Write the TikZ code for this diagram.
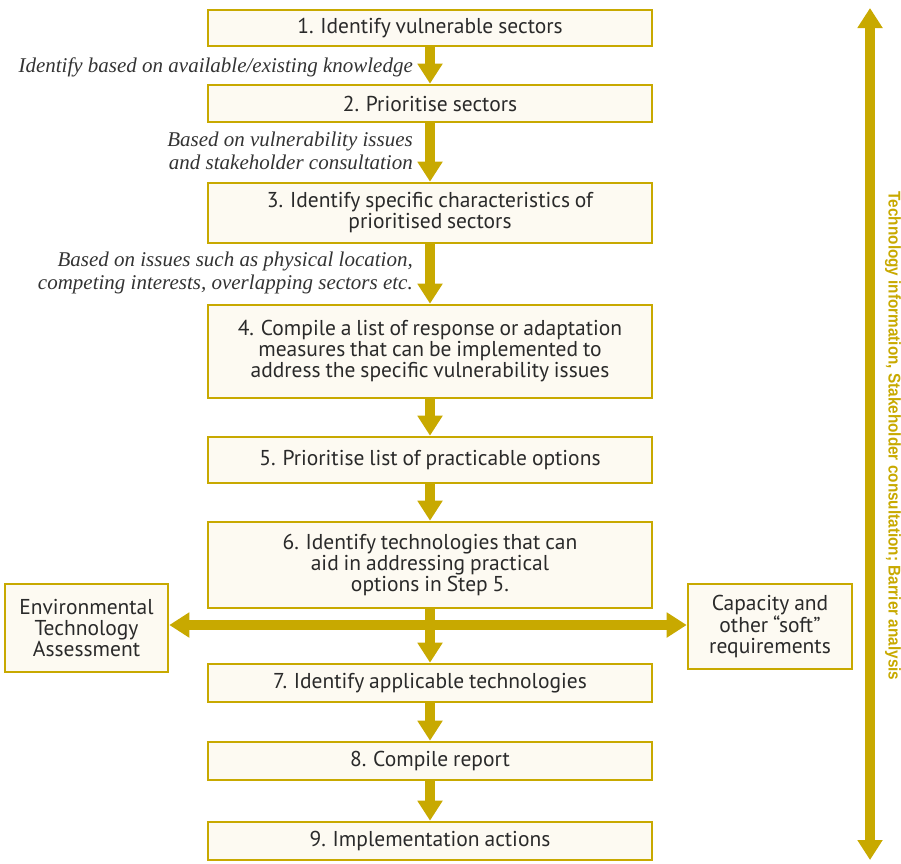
\documentclass[tikz,border=0pt]{standalone}
\usepackage{fontspec}
\setmainfont{PT Sans}[WordSpace=0.85]
\newfontfamily\notefont{Liberation Serif}
\newfontfamily\sidefont{Liberation Sans}
\usepackage{tikz}
\usetikzlibrary{arrows.meta, positioning, calc}
\definecolor{stepgold}{HTML}{C8A900}
\definecolor{stepfill}{HTML}{FDFAF2}
\definecolor{steptext}{HTML}{2A2A2A}
\definecolor{notetext}{HTML}{333333}

\begin{document}
\begin{tikzpicture}[
    x=1pt, y=-1pt,
    stepbox/.style={
        draw=stepgold, fill=stepfill, line width=2.6pt,
        minimum width=444pt, inner sep=2pt,
        font=\fontsize{21.5}{21}\selectfont, text=steptext, align=center
    },
    sidebox/.style={
        draw=stepgold, fill=stepfill, line width=2.6pt,
        inner sep=2pt,
        font=\fontsize{21.5}{21}\selectfont, text=steptext, align=center
    },
    note/.style={
        font=\notefont\itshape\fontsize{21}{22.5}\selectfont,
        text=notetext, align=right, anchor=east, inner sep=0pt
    },
    fatarrow/.style={
        draw=stepgold, line width=10pt,
        -{Triangle[width=24pt, length=20pt]}
    },
    fatboth/.style={
        draw=stepgold, line width=10pt,
        {Triangle[width=24pt, length=20pt]}-{Triangle[width=24pt, length=20pt]}
    }
]
\useasboundingbox (0,0) rectangle (901,863);

% Steps
\node[stepbox, minimum height=36pt] (s1) at (430,28) {1. Identify vulnerable sectors};
\node[stepbox, minimum height=37pt] (s2) at (430,103.5) {2. Prioritise sectors};
\node[stepbox, minimum height=60pt] (s3) at (430,213) {3. Identify specific characteristics of\\prioritised sectors};
\node[stepbox, minimum height=93pt] (s4) at (430,351.5) {4. Compile a list of response or adaptation\\measures that can be implemented to\\address the specific vulnerability issues};
\node[stepbox, minimum height=46pt] (s5) at (430,460) {5. Prioritise list of practicable options};
\node[stepbox, minimum height=86pt] (s6) at (430,565) {6. Identify technologies that can\\aid in addressing practical\\options in Step 5.};
\node[stepbox, minimum height=38pt] (s7) at (430,683) {7. Identify applicable technologies};
\node[stepbox, minimum height=38pt] (s8) at (430,761) {8. Compile report};
\node[stepbox, minimum height=38pt] (s9) at (430,841) {9. Implementation actions};

% Side boxes
\node[sidebox, minimum width=163pt, minimum height=88pt] (env) at (86.5,628) {Environmental\\Technology\\Assessment};
\node[sidebox, minimum width=164pt, minimum height=85pt] (cap) at (770,626.5) {Capacity and\\other “soft”\\requirements};

% Arrows down the steps
\draw[fatarrow] (s1) -- (s2);
\draw[fatarrow] (s2) -- (s3);
\draw[fatarrow] (s3) -- (s4);
\draw[fatarrow] (s4) -- (s5);
\draw[fatarrow] (s5) -- (s6);
\draw[fatarrow] (s6) -- (s7);
\draw[fatarrow] (s7) -- (s8);
\draw[fatarrow] (s8) -- (s9);

% Arrows out to the side boxes
\coordinate (hub) at (430,625);
\draw[fatboth] (hub -| env.east) -- (hub -| cap.west);

% Notes beside the arrows
\node[note] (n1) at (413,67) {Identify based on available/existing knowledge};
\node[note] (n2) at (413,151) {Based on vulnerability issues\\and stakeholder consultation};
\node[note] (n3) at (413,273) {Based on issues such as physical location,\\competing interests, overlapping sectors etc.};

% Side bar
\coordinate (bartop) at (870,8);
\coordinate (barbot) at (870,860);
\draw[fatboth] (bartop) -- (barbot);
\node[rotate=-90, text=stepgold, inner sep=0pt,
      font=\sidefont\bfseries\fontsize{17}{17}\selectfont] (bar) at (893,436)
    {\scalebox{0.9}[1]{Technology information, Stakeholder consultation; Barrier analysis}};

\end{tikzpicture}
\end{document}
